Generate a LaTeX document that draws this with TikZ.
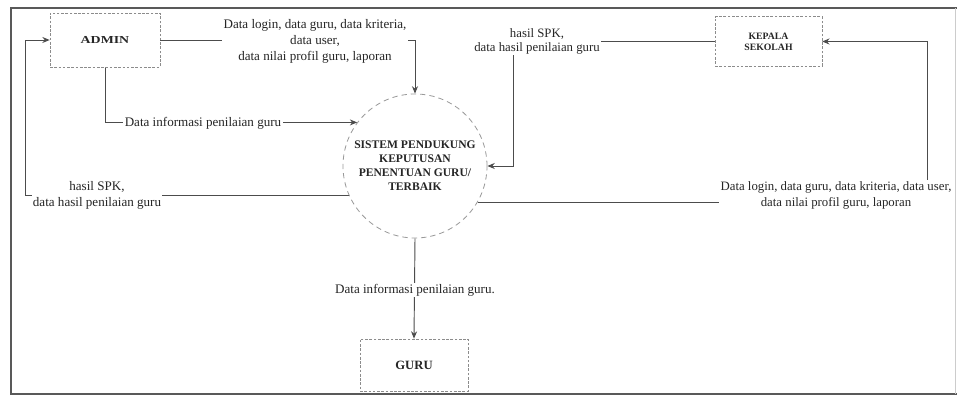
\documentclass[tikz,border=0pt]{standalone}
\usepackage{fontspec}
\setmainfont{Liberation Serif}
\usetikzlibrary{arrows.meta,backgrounds}
\begin{document}
\begin{tikzpicture}[x=0.75pt,y=-0.75pt,
  box/.style={draw=black!45, dash pattern=on 2pt off 1.2pt, line width=0.5pt, inner sep=0pt, align=center, text=black!85},
  proc/.style={circle, draw=black!40, dash pattern=on 4pt off 3pt, line width=0.6pt, minimum size=108pt, inner sep=0pt, align=center, text=black!85, font=\bfseries\fontsize{8.7}{10.5}\selectfont},
  lbl/.style={fill=white, inner sep=1pt, align=center, text=black!85, font=\fontsize{9.8}{12}\selectfont},
  flow/.style={draw=black!70, line width=0.7pt},
  tip/.style={-{Stealth[length=5.5pt,width=4.5pt]}}
]
\useasboundingbox (0,0) rectangle (957,398);

% nodes
\node[box, minimum width=82.5pt, minimum height=40.5pt, font=\bfseries\fontsize{8}{10}\selectfont] (admin) at (105,40) {\scalebox{1.3}[1]{ADMIN}};
\node[box, minimum width=80pt, minimum height=37pt, font=\bfseries\fontsize{7.3}{8.4}\selectfont] (kepala) at (768.5,41.5) {KEPALA\\SEKOLAH};
\node[box, minimum width=81pt, minimum height=39pt, font=\bfseries\fontsize{9.5}{11}\selectfont] (guru) at (414,365) {GURU};
\node[proc] (sys) at (415,166) {SISTEM PENDUKUNG\\KEPUTUSAN\\PENENTUAN GURU/\\TERBAIK};

\node[lbl] (l1) at (315,41) {Data login, data guru, data kriteria,\\data user,\\data nilai profil guru, laporan};
\node[lbl] (l2) at (203,123) {Data informasi penilaian guru};
\node[lbl] (l3) at (97,195) {hasil SPK,\\data hasil penilaian guru};
\node[lbl, font=\fontsize{9.6}{9.9}\selectfont] (l4) at (537,41.5) {hasil SPK,\\data hasil penilaian guru};
\node[lbl, font=\fontsize{9.6}{12}\selectfont] (l5) at (836,195) {Data login, data guru, data kriteria, data user,\\data nilai profil guru, laporan};
\node[lbl] (l6) at (415,290) {Data informasi penilaian guru.};

% connectors behind labels
\begin{scope}[on background layer]
  \fill[white] (0,0) rectangle (957,398);
  \draw[flow,tip] (admin.east) -- (415,40) -- (sys.north);
  \draw[flow,tip] (admin.south) |- (sys.143.3);
  \draw[flow,tip] (sys.204.6) -| ([xshift=-18pt]admin.west) -- (admin.west);
  \draw[flow,tip] (kepala.west) -| (513,166) -- (sys.east);
  \draw[flow,tip] (sys.330) -| ([xshift=78.75pt]kepala.east) -- (kepala.east);
  \draw[flow,tip] (sys.south) -- (guru.north);
\end{scope}

% frame
\draw[black!65, line width=2.2pt] (957,8) -- (11,8) -- (11,394) -- (957,394);
\draw[black!20, line width=0.5pt] (955,8) -- (955,394);
\end{tikzpicture}
\end{document}
